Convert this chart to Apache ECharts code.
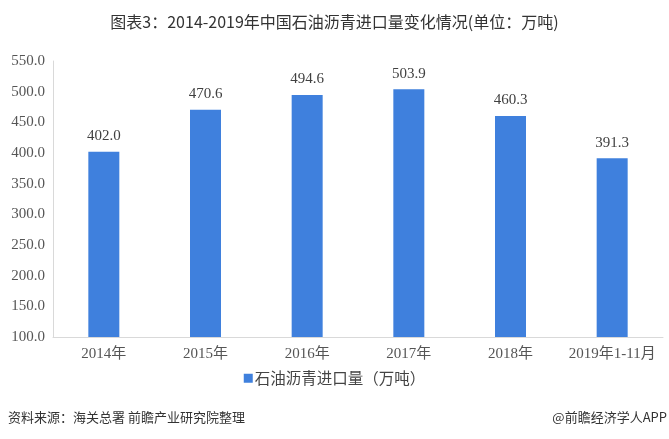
<!DOCTYPE html>
<html><head><meta charset="utf-8">
<script src="https://cdn.jsdelivr.net/npm/echarts@6/dist/echarts.min.js"></script>
<style>html,body{margin:0;padding:0;background:#fff}#c{width:669px;height:439px}</style>
</head><body><div id="c"></div>
<script>
const categories = ['2014年','2015年','2016年','2017年','2018年','2019年1-11月'];
const importVolume = [402.0, 470.6, 494.6, 503.9, 460.3, 391.3];
const seriesName = '石油沥青进口量（万吨）';
const titleText = '图表3：2014-2019年中国石油沥青进口量变化情况(单位：万吨)';
const sourceText = '资料来源：海关总署 前瞻产业研究院整理';
const brandText = '@前瞻经济学人APP';

const chart = echarts.init(document.getElementById('c'));
const serif = '"Liberation Serif", "Noto Sans CJK SC", serif';
const cjk = '"Noto Sans CJK SC", sans-serif';
chart.setOption({
  animation: false,
  title: {
    text: titleText, left: 'center', top: 9,
    textStyle: { fontFamily: cjk, fontSize: 16, fontWeight: 'normal', color: '#333' }
  },
  graphic: [
    { type: 'text', left: 8, top: 411, style: { text: sourceText, font: '13px "Noto Sans CJK SC", sans-serif', fill: '#333' } },
    { type: 'text', right: 2, top: 411, style: { text: brandText, font: '13px "Noto Sans CJK SC", sans-serif', fill: '#333' } }
  ],
  legend: {
    bottom: 48, left: 'center', itemWidth: 9, itemHeight: 9, icon: 'rect', itemGap: 4,
    textStyle: { fontFamily: cjk, fontSize: 15.5, color: '#444', padding: [0, 0, 0, -3] },
    data: [seriesName]
  },
  grid: { left: 53, right: 6, top: 61, bottom: 102, containLabel: false },
  xAxis: {
    type: 'category', data: categories,
    axisLine: { lineStyle: { color: '#d9d9d9' } },
    axisTick: { show: false },
    axisLabel: { fontFamily: serif, fontSize: 15, color: '#555', margin: 10, interval: 0 }
  },
  yAxis: {
    type: 'value', min: 100, max: 550, interval: 50,
    axisLine: { show: true, lineStyle: { color: '#d9d9d9' } },
    axisTick: { show: false },
    splitLine: { show: false },
    axisLabel: { fontFamily: serif, fontSize: 15, color: '#555', margin: 8,
      formatter: v => v.toFixed(1) }
  },
  series: [{
    name: seriesName, type: 'bar', data: importVolume, barWidth: 31,
    itemStyle: { color: '#3f80dd' },
    label: { show: true, position: 'top', distance: 8, fontFamily: serif, fontSize: 15, color: '#404040',
      formatter: p => p.value.toFixed(1) }
  }]
});
</script></body></html>
